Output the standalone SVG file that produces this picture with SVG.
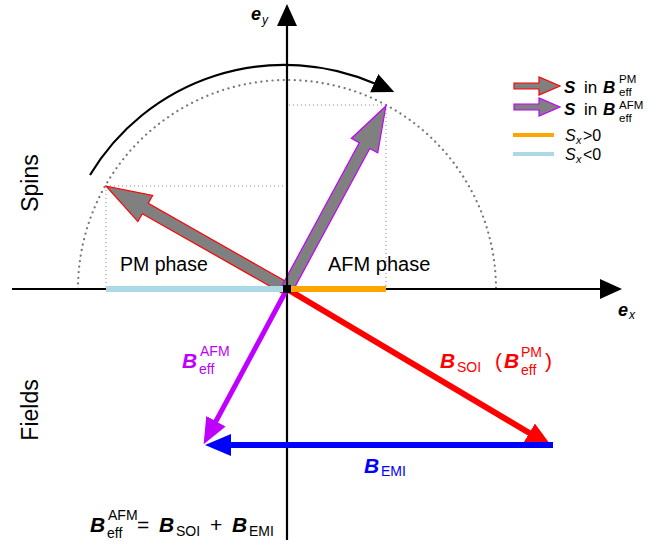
<svg xmlns="http://www.w3.org/2000/svg" width="649" height="548" viewBox="0 0 649 548">
<style>
text{font-family:"Liberation Sans","DejaVu Sans",sans-serif}
.bi{font-weight:bold;font-style:italic}
.it{font-style:italic}
.big{font-size:21px}
.s14{font-size:14px}
.lg{font-size:17px}
.ls{font-size:11.5px}
.dot{fill:none;stroke:#888;stroke-width:1;stroke-dasharray:1 3}
.circ{fill:none;stroke:#777;stroke-width:2.2;stroke-dasharray:0.1 5.5;stroke-linecap:round}
.spin{fill:#808080;stroke-width:1.2}
.pu{fill:#c000ff}
.rd{fill:#f00}
.bl{fill:#00f}
</style>
<defs>
<marker id="hk" viewBox="0 0 22 20" refX="2" refY="10" markerWidth="22" markerHeight="20" markerUnits="userSpaceOnUse" orient="auto"><path d="M0,0 L22,10 L0,20 z" fill="#000"/></marker>
<marker id="hr" viewBox="0 0 26 22" refX="2" refY="11" markerWidth="26" markerHeight="22" markerUnits="userSpaceOnUse" orient="auto"><path d="M0,0 L26,11 L0,22 z" fill="#f00"/></marker>
<marker id="hp" viewBox="0 0 26 22" refX="2" refY="11" markerWidth="26" markerHeight="22" markerUnits="userSpaceOnUse" orient="auto"><path d="M0,0 L26,11 L0,22 z" fill="#c000ff"/></marker>
<marker id="hb" viewBox="0 0 26 22" refX="2" refY="11" markerWidth="26" markerHeight="22" markerUnits="userSpaceOnUse" orient="auto"><path d="M0,0 L26,11 L0,22 z" fill="#00f"/></marker>
</defs>

<!-- guides -->
<g id="guides">
<path class="circ" d="M78,289 A209 209 0 0 1 496,289"/>
<path class="dot" d="M106,186 H287 M106,186 V289 M386,105 H287 M386,105 V289"/>
</g>

<!-- spin arrows -->
<g id="spin-pm"><polygon class="spin" stroke="#f00" points="0,-6 163,-6 163,-15 208,0 163,15 163,6 0,6" transform="translate(287,289) rotate(209.6)"/></g>
<g id="spin-afm"><polygon class="spin" stroke="#c000ff" points="0,-6 163,-6 163,-15 208,0 163,15 163,6 0,6" transform="translate(287,289) rotate(-61.6)"/></g>

<!-- axes -->
<g id="axes">
<line x1="12" y1="289" x2="602" y2="289" stroke="#000" stroke-width="2.2" marker-end="url(#hk)"/>
<line x1="287" y1="540" x2="287" y2="24" stroke="#000" stroke-width="2.2" marker-end="url(#hk)"/>
</g>

<!-- rotation arc -->
<g id="rotation"><path d="M90,175 A227 227 0 0 1 376,84" fill="none" stroke="#000" stroke-width="2.2" marker-end="url(#hk)"/></g>

<!-- connectors: field arrows -->
<g id="fields">
<line x1="287" y1="289" x2="531" y2="434" stroke="#f00" stroke-width="6" marker-end="url(#hr)"/>
<line x1="287" y1="289" x2="215" y2="423" stroke="#c000ff" stroke-width="5" marker-end="url(#hp)"/>
<line x1="553" y1="445" x2="229" y2="445" stroke="#00f" stroke-width="6" marker-end="url(#hb)"/>
</g>

<!-- Sx bars -->
<g id="bars">
<line x1="106" y1="289" x2="287" y2="289" stroke="#add8e6" stroke-width="6"/>
<line x1="287" y1="289" x2="386" y2="289" stroke="#ffa500" stroke-width="6"/>
<rect x="283" y="285" width="8" height="8" fill="#000"/>
</g>

<!-- labels -->
<g id="labels">
<text x="251" y="20" class="bi" font-size="18">e</text><text x="262" y="24" class="it" font-size="12">y</text>
<text x="618" y="316" class="bi" font-size="18">e</text><text x="629" y="319" class="it" font-size="12">x</text>
<text x="120" y="271" font-size="19.5">PM phase</text>
<text x="328" y="271" font-size="20">AFM phase</text>
<text transform="translate(38,183) rotate(-90)" text-anchor="middle" font-size="23">Spins</text>
<text transform="translate(38,410) rotate(-90)" text-anchor="middle" font-size="23">Fields</text>

<text x="182" y="368" class="bi big pu">B</text>
<text x="199" y="374" class="s14 pu">eff</text>
<text x="200" y="356" class="s14 pu">AFM</text>

<text x="440" y="368" class="bi big rd">B</text>
<text x="457" y="372" class="s14 rd">SOI</text>
<text x="495" y="368" class="big rd">(</text>
<text x="504" y="368" class="bi big rd">B</text>
<text x="521" y="375" class="s14 rd">eff</text>
<text x="521" y="357" class="s14 rd">PM</text>
<text x="545" y="368" class="big rd">)</text>

<text x="364" y="473" class="bi big bl">B</text>
<text x="381" y="476" class="s14 bl">EMI</text>

<text x="90" y="532" class="bi big">B</text>
<text x="107" y="538" class="s14">eff</text>
<text x="108" y="520" class="s14">AFM</text>
<text x="137" y="532" class="big">=</text>
<text x="159" y="532" class="bi big">B</text>
<text x="176" y="536" class="s14">SOI</text>
<text x="210" y="532" class="big">+</text>
<text x="232" y="532" class="bi big">B</text>
<text x="249" y="536" class="s14">EMI</text>
</g>

<!-- legend -->
<g id="legend">
<polygon class="spin" stroke="#f00" points="514,83 539,83 539,77 560,86 539,95 539,89 514,89"/>
<polygon class="spin" stroke="#c000ff" points="514,104 539,104 539,98 560,107 539,116 539,110 514,110"/>
<line x1="513" y1="135" x2="554" y2="135" stroke="#ffa500" stroke-width="4"/>
<line x1="513" y1="154" x2="554" y2="154" stroke="#add8e6" stroke-width="4"/>
<text x="564" y="93" class="bi lg">S</text><text x="584" y="93" class="lg">in</text><text x="603" y="93" class="bi lg">B</text>
<text x="619" y="95.5" class="ls">eff</text><text x="619" y="83" class="ls">PM</text>
<text x="564" y="115" class="bi lg">S</text><text x="584" y="115" class="lg">in</text><text x="603" y="115" class="bi lg">B</text>
<text x="619" y="121.5" class="ls">eff</text><text x="619" y="108.5" class="ls">AFM</text>
<text x="565" y="141" class="it" font-size="16">S</text><text x="576" y="144" class="it" font-size="11">x</text><text x="583" y="141" font-size="16">&gt;0</text>
<text x="565" y="160" class="it" font-size="16">S</text><text x="576" y="163" class="it" font-size="11">x</text><text x="583" y="160" font-size="16">&lt;0</text>
</g>
</svg>
